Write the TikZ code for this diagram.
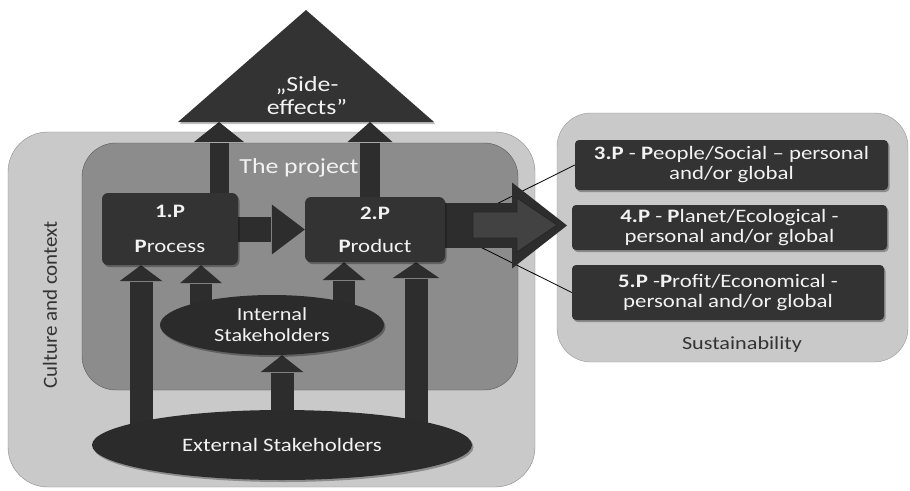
\documentclass[tikz,border=0pt]{standalone}
\usepackage{fontspec}
\setmainfont{Carlito}[FakeStretch=1.2]
\newfontfamily\plainfont{Carlito}[FakeStretch=1.05]
\usetikzlibrary{shapes.geometric,calc,shadows}
\definecolor{boxc}{HTML}{333333}
\definecolor{ellc}{HTML}{2B2B2B}
\definecolor{arrc}{HTML}{2D2D2D}
\definecolor{outerc}{HTML}{C9C9C9}
\definecolor{projc}{HTML}{8C8C8C}
\definecolor{txtw}{HTML}{F2F2F2}
\definecolor{txtd}{HTML}{333333}
\pgfdeclarelayer{bg}
\pgfdeclarelayer{arr}
\pgfsetlayers{bg,arr,main}
\newcommand\BlkUp[5]{%
  \fill[arrc] ($(#1)+(-#3/2,0)$) rectangle ($(#2)+(#3/2,#5+0.5)$);
  \fill[arrc] ($(#2)+(-#4/2,#5)$) -- (#2) -- ($(#2)+(#4/2,#5)$) -- cycle;}
\newcommand\BlkRight[5]{%
  \fill[arrc] ($(#1)+(0,-#3/2)$) rectangle ($(#2)+(-#5-0.5,#3/2)$);
  \fill[arrc] ($(#2)+(-#5,-#4/2)$) -- (#2) -- ($(#2)+(-#5,#4/2)$) -- cycle;}
\tikzset{
  softshadow/.style={drop shadow={shadow xshift=1.5pt,shadow yshift=-2pt,opacity=0.3,fill=black}},
  pbox/.style={draw=none,fill=boxc,rounded corners=6pt,inner sep=0pt,text=txtw,align=center,softshadow},
  ellbox/.style={ellipse,fill=ellc,inner sep=0pt,text=txtw,align=center,softshadow},
  boxfont/.style={font=\fontsize{19}{20}\selectfont},
  thinline/.style={draw=black,line width=0.8pt},
  container/.style={inner sep=0pt,rounded corners=#1},
}
\begin{document}
\begin{tikzpicture}[x=1pt,y=-1pt]
\useasboundingbox (0,0) rectangle (910,490);
% containers
\begin{pgfonlayer}{bg}
  \fill[white] (0,0) rectangle (910,490);
  \node[container=40pt,draw=black!45,fill=outerc,minimum width=527pt,minimum height=355pt] (culture) at (271.5,309.5) {};
  \node[container=34pt,draw=black!65,fill=projc,minimum width=436pt,minimum height=247pt] (project) at (300,266.5) {};
  \node[container=34pt,draw=black!40,fill=outerc,minimum width=351pt,minimum height=249pt] (sustain) at (732.5,237.5) {};
\end{pgfonlayer}
% side effects triangle
\fill[black,opacity=0.25] (179.5,124) -- (307.5,12) -- (435.5,124) -- cycle;
\fill[boxc] (178,122) -- (306,10) -- (434,122) -- cycle;
\node[text=txtw,align=center,font=\fontsize{21.5}{23}\selectfont] (side) at (307,96) {„Side-\\effects”};
\coordinate (tL) at (219,122);
\coordinate (tR) at (370,122);
% labels
\node[text=txtw,font=\fontsize{21.5}{23}\selectfont] (projlbl) at (299,168) {The project};
\node[text=txtd,rotate=90,font=\plainfont\fontsize{20}{22}\selectfont] (cultlbl) at (50,305) {Culture and context};
\node[text=txtd,font=\fontsize{18.5}{20}\selectfont] (sustlbl) at (742,345) {Sustainability};
% P boxes
\node[pbox,boxfont,minimum width=136pt,minimum height=72pt] (p1) at (170,229) {\textbf{1.P}\\[15pt]\textbf{P}rocess};
\node[pbox,boxfont,minimum width=140pt,minimum height=65pt] (p2) at (375,229.5) {\textbf{2.P}\\[13pt]\textbf{P}roduct};
\node[pbox,boxfont,rounded corners=4pt,minimum width=313pt,minimum height=50pt] (b3) at (731.5,165) {\textbf{3.P} - \textbf{P}eople/Social – personal\\and/or global};
\node[pbox,boxfont,rounded corners=4pt,minimum width=315pt,minimum height=45pt] (b4) at (729.5,227.5) {\textbf{4.P} - \textbf{P}lanet/Ecological -\\personal and/or global};
\node[pbox,boxfont,rounded corners=4pt,minimum width=312pt,minimum height=55pt] (b5) at (728,292.5) {\textbf{5.P} -\textbf{P}rofit/Economical -\\personal and/or global};
% stakeholders
\node[ellbox,font=\fontsize{18.5}{21}\selectfont,minimum width=224pt,minimum height=60pt] (int) at (272,325) {Internal\\Stakeholders};
\node[ellbox,font=\fontsize{19}{21}\selectfont,minimum width=380pt,minimum height=70pt] (ext) at (282,445) {External Stakeholders};
% x positions of vertical arrows
\coordinate (xE1) at (141,0);
\coordinate (xI1) at (201,0);
\coordinate (xI2) at (344,0);
\coordinate (xEI) at (282,0);
\coordinate (xE2) at (416,0);
\coordinate (yA3) at (0,229.5);
\coordinate (sustTip) at (567,225.5);
\begin{pgfonlayer}{arr}
  \draw[thinline] (p2.east) -- (b3.west);
  \draw[thinline] (p2.east) -- (b5.west);
  \BlkUp{p1.north -| tL}{tL}{19}{50}{20}
  \BlkUp{p2.north -| tR}{tR}{20}{45}{20}
  \BlkRight{p1.east |- yA3}{p2.west |- yA3}{25}{50}{33}
  \BlkRight{p2.east |- sustTip}{sustTip}{45}{86}{55}
  \fill[arrc!90!white,draw=black!85,line width=0.8pt] (473,212) -- (517,212) -- (517,198) -- (557,225) -- (517,252) -- (517,238) -- (473,238) -- cycle;
  \BlkUp{ext.center -| xE1}{p1.south -| xE1}{23}{43}{16}
  \BlkUp{int.center -| xI1}{p1.south -| xI1}{22}{42}{18}
  \BlkUp{int.center -| xI2}{p2.south -| xI2}{22}{43}{18}
  \BlkUp{ext.center -| xEI}{int.south -| xEI}{23}{43}{17}
  \BlkUp{ext.center -| xE2}{p2.south -| xE2}{23}{47}{16}
\end{pgfonlayer}
\end{tikzpicture}
\end{document}
